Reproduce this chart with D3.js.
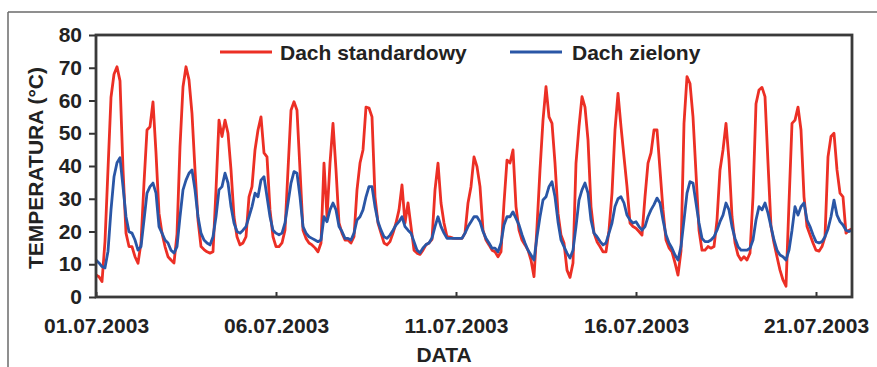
<!DOCTYPE html>
<html>
<head>
<meta charset="utf-8">
<script src="https://cdn.jsdelivr.net/npm/d3@7/dist/d3.min.js"></script>
<style>
  html, body { margin: 0; padding: 0; background: #fff; }
  svg text { font-family: "Liberation Sans", Arial, sans-serif; font-weight: bold; fill: #222; }
</style>
</head>
<body>
<svg id="chart" width="877" height="367"></svg>
<script>
// ---- DATA (2-hour samples, one row per day) ----
const startDate = new Date(2003, 6, 1, 0, 0);
const endDate = new Date(2003, 6, 22, 0, 0);
const sampleStepHours = 2;

const seriesNames = ["Dach standardowy", "Dach zielony"];

const dachStandardowy = [
  6.7, 6.2, 4.7, 17, 39, 61, 68, 70.3, 66, 39, 19.5, 15.4,          // 01.07
  15.4, 12.3, 10.3, 16.5, 34.8, 51, 52, 59.6, 44, 25.6, 19.5, 15.4, // 02.07
  12.3, 11.3, 10.4, 19.2, 45.9, 64.2, 70.3, 66.3, 56, 38.8, 23.5, 15.4, // 03.07
  14.5, 13.8, 13.4, 13.8, 32.7, 54, 49, 54, 50, 38.8, 24.5, 18.4,   // 04.07
  15.9, 16.5, 18.4, 30.6, 33.7, 44.9, 51, 55, 44, 42.8, 26.6, 18.4, // 05.07
  15.4, 15.4, 16.5, 20.4, 38.8, 57, 59.6, 57, 38.8, 20.4, 17.9, 16.5, // 06.07
  15.9, 15, 13.8, 16.5, 40.9, 24.5, 40.9, 53, 38.8, 22.6, 19.5, 17.4, // 07.07
  17.4, 16.5, 18.4, 32.7, 40.9, 44.9, 58, 57.7, 55, 30.6, 22.6, 19.5, // 08.07
  16.5, 15.9, 16.9, 19.5, 22.6, 26.6, 34.2, 22.6, 28.7, 21.5, 14.3, 13.4, // 09.07
  13, 14.3, 15.9, 16.5, 17.6, 32.7, 40.9, 28.7, 22.6, 18.4, 18.3, 18, // 10.07
  17.9, 17.9, 17.9, 19.5, 28.7, 33.7, 42.8, 39.8, 33.7, 20.4, 17.4, 15.9, // 11.07
  14.3, 13.8, 12.3, 13.8, 28.7, 41.8, 40.9, 44.9, 27.6, 20.4, 17.4, 15.9, // 12.07
  14.3, 11.3, 6.2, 21.5, 38.8, 54, 64.2, 55, 53, 40.9, 25.6, 18.9,  // 13.07
  16.5, 8.2, 6, 10.4, 40.9, 52, 61.2, 58, 48, 27.6, 19.5, 16.9,     // 14.07
  15.4, 13.8, 13.8, 20.4, 31.7, 51, 62.2, 52, 42.8, 33.7, 22.6, 21.5, // 15.07
  21, 20, 18.9, 30.6, 40.9, 44, 51, 51, 38.8, 26.6, 17.4, 15,       // 16.07
  13.8, 10.4, 6.7, 14, 53, 67.3, 65.2, 55, 37.8, 20.4, 14.3, 14.3,  // 17.07
  15.4, 14.9, 15.4, 23.5, 38.8, 44.9, 53, 41.8, 24.5, 16.5, 12.8, 11.3, // 18.07
  12.3, 11.3, 13.4, 30.6, 59, 63.2, 64, 61.2, 40.9, 21.5, 16.5, 12.3, // 19.07
  8.2, 5.2, 3.3, 28.7, 53, 54, 58, 51, 30.6, 21.5, 19, 16.5,        // 20.07
  14.3, 14, 15.4, 18.4, 42.8, 49, 50, 38.8, 31.7, 30.6, 19.5, 20.4, // 21.07
  20.8
];

const dachZielony = [
  11.3, 10.4, 9.3, 8.9, 14, 26.6, 36.7, 41, 42.5, 33.7, 24.5, 19.9, // 01.07
  19.5, 17.4, 14.3, 15.4, 23.5, 31.7, 33.7, 34.8, 31.7, 21.5, 19.5, 17.4, // 02.07
  16.5, 14.3, 13.4, 15.4, 24.5, 32.7, 35.7, 37.8, 38.8, 32.7, 24.5, 19.5, // 03.07
  17.4, 16.5, 15.9, 18.4, 24.5, 32.7, 33.7, 37.8, 34.8, 27.6, 22.6, 20, // 04.07
  19.5, 20.4, 21.5, 24.5, 27.6, 31.7, 30.6, 35.7, 36.7, 30.6, 24.5, 20.4, // 05.07
  19.5, 19, 19.5, 22.6, 28.7, 34.8, 38.3, 37.8, 30.6, 21.5, 19.5, 18.4, // 06.07
  17.9, 17.4, 16.9, 17.4, 24.5, 23, 26.6, 28.7, 26.6, 21.5, 20, 17.9, // 07.07
  17.9, 17.4, 19.5, 23.5, 24.5, 26.6, 30.6, 33.7, 33.7, 27.6, 23, 20.4, // 08.07
  18.4, 17.9, 18.9, 20.4, 22, 23, 24.5, 21.5, 20.4, 19.5, 16.9, 14.3, // 09.07
  13.5, 15, 16, 16.5, 18, 21.5, 24.5, 21.5, 19.5, 17.9, 17.9, 17.9, // 10.07
  17.9, 17.9, 17.9, 19.5, 21.5, 23, 24.5, 24.5, 23, 20, 17.9, 16.5, // 11.07
  14.9, 14.9, 13.8, 16.5, 22, 24.5, 24.5, 26, 24, 22, 19, 16.5,     // 12.07
  14.3, 12.8, 11.3, 18.4, 24.5, 29.6, 30.6, 33.7, 35.2, 30.6, 23, 17.4, // 13.07
  15.4, 13.4, 11.9, 14.3, 21.5, 29.6, 32.7, 34.8, 31.7, 23.5, 19.5, 18.4, // 14.07
  17, 15.9, 16.5, 19.5, 22.6, 27.6, 30, 30.6, 28.7, 25, 23.5, 22.6, // 15.07
  23, 21.5, 20.4, 21.5, 24.5, 26.6, 28.2, 30.2, 28.7, 23.5, 19, 16.5, // 16.07
  14.9, 12.8, 11.3, 15.4, 23.5, 31.7, 35.2, 34.8, 28.7, 22.6, 17.9, 16.9, // 17.07
  16.9, 17.4, 18.4, 20.4, 23, 25, 28.7, 26.6, 21.5, 17.9, 15.4, 14.3, // 18.07
  14.3, 14.3, 14.9, 17.4, 23.5, 27.6, 26.6, 28.7, 25.6, 21.5, 17.4, 14.3, // 19.07
  12.8, 12.3, 11.3, 14.3, 20.4, 27.6, 25, 27.6, 28.7, 23.5, 21.5, 19, // 20.07
  16.9, 16.5, 16.9, 18.4, 20.8, 24.5, 29.6, 25, 23, 22, 20.4, 20,   // 21.07
  20.4
];

const yTickValues = [0, 10, 20, 30, 40, 50, 60, 70, 80];
const xTickDates = ["01.07.2003", "06.07.2003", "11.07.2003", "16.07.2003", "21.07.2003"];
const yTitle = "TEMPERATURA (°C)";
const xTitle = "DATA";
const colors = ["#ec2f25", "#2a56a6"];

// ---- CHART ----
const svg = d3.select("#chart");
const W = 877, H = 367;
const x0 = 96, x1 = 852;
const y0 = 297, y1 = 35;
const FS = 21;

const parse = d3.timeParse("%d.%m.%Y");
const fmt = d3.timeFormat("%d.%m.%Y");

const x = d3.scaleTime().domain([startDate, endDate]).range([x0, x1]);
const y = d3.scaleLinear().domain([0, 80]).range([y0, y1]);

// outer figure border (top & left)
svg.append("line").attr("x1", 8).attr("x2", W).attr("y1", 12).attr("y2", 12)
  .attr("stroke", "#6a6a6a").attr("stroke-width", 1.5);
svg.append("line").attr("x1", 8).attr("x2", 8).attr("y1", 12).attr("y2", H)
  .attr("stroke", "#6a6a6a").attr("stroke-width", 1.5);

// clip
svg.append("defs").append("clipPath").attr("id", "clip")
  .append("rect").attr("x", x0).attr("y", y1).attr("width", x1 - x0).attr("height", y0 - y1);

const timeOf = i => d3.timeHour.offset(startDate, i * sampleStepHours);
const line = d3.line().x((d, i) => x(timeOf(i))).y(d => y(d));

const g = svg.append("g").attr("clip-path", "url(#clip)");
[dachStandardowy, dachZielony].forEach((s, k) => {
  g.append("path").datum(s).attr("d", line)
    .attr("fill", "none").attr("stroke", colors[k]).attr("stroke-width", 2.8)
    .attr("stroke-linejoin", "round");
});

// y axis
const yAxis = svg.append("g").attr("transform", `translate(${x0},0)`)
  .call(d3.axisLeft(y).tickValues(yTickValues).tickSize(7).tickPadding(7));
yAxis.select(".domain").remove();
yAxis.selectAll(".tick line").attr("stroke", "#333").attr("stroke-width", 2);
yAxis.selectAll(".tick text").attr("font-size", FS).attr("fill", "#222")
  .style("font-family", "'Liberation Sans', Arial, sans-serif").style("font-weight", "bold");

// x axis
const xAxis = svg.append("g").attr("transform", `translate(0,${y0})`)
  .call(d3.axisBottom(x).tickValues(xTickDates.map(parse)).tickFormat(fmt).tickSize(-5));
xAxis.select(".domain").remove();
xAxis.selectAll(".tick line").attr("stroke", "#333").attr("stroke-width", 2);
xAxis.selectAll(".tick text").attr("font-size", FS).attr("fill", "#222")
  .attr("y", 36).attr("dy", 0)
  .style("font-family", "'Liberation Sans', Arial, sans-serif").style("font-weight", "bold");

// plot frame
svg.append("rect").attr("x", x0).attr("y", y1).attr("width", x1 - x0).attr("height", y0 - y1)
  .attr("fill", "none").attr("stroke", "#3a3a3a").attr("stroke-width", 2.8);

// axis titles
svg.append("text").attr("transform", `translate(43,168) rotate(-90)`)
  .attr("text-anchor", "middle").attr("font-size", FS).text(yTitle);
svg.append("text").attr("x", 444).attr("y", 362)
  .attr("text-anchor", "middle").attr("font-size", FS).text(xTitle);

// legend
const legendItems = [
  { name: seriesNames[0], color: colors[0], lx: 220, tx: 280 },
  { name: seriesNames[1], color: colors[1], lx: 510, tx: 572 }
];
legendItems.forEach(it => {
  svg.append("line").attr("x1", it.lx).attr("x2", it.lx + 52).attr("y1", 52).attr("y2", 52)
    .attr("stroke", it.color).attr("stroke-width", 2.8);
  svg.append("text").attr("x", it.tx).attr("y", 59.5).attr("font-size", FS).text(it.name);
});
</script>
</body>
</html>
